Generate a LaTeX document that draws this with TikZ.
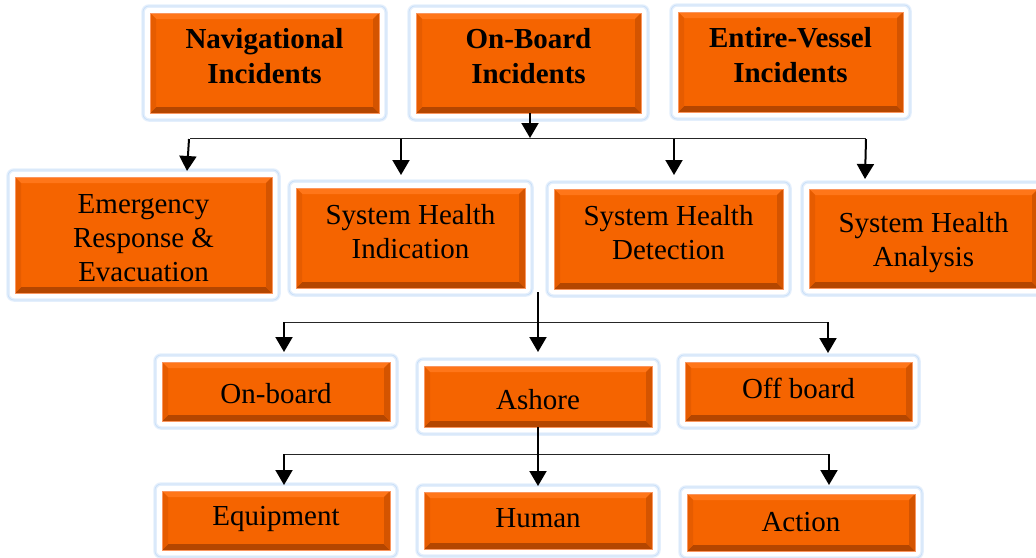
\documentclass[tikz,border=0pt]{standalone}
\usepackage{fontspec}
\setmainfont{Liberation Serif}
\usetikzlibrary{arrows.meta,calc}
\definecolor{orfill}{RGB}{245,100,0}
\definecolor{bvtop}{RGB}{255,118,25}
\definecolor{bvleft}{RGB}{230,92,0}
\definecolor{bvright}{RGB}{212,84,0}
\definecolor{bvbot}{RGB}{180,70,0}
\definecolor{orline}{RGB}{250,150,95}
\definecolor{glow}{RGB}{228,239,252}
\definecolor{glowin}{RGB}{200,223,248}
\tikzset{
  frame/.style={fill=white, draw=glow, line width=3.5pt, rounded corners=6pt},
  frameline/.style={draw=glowin, line width=0.7pt, rounded corners=6pt},
  obox/.style={rectangle, fill=orfill, draw=orline, line width=0.8pt, inner sep=0pt,
    path picture={
      \path (path picture bounding box.north west) coordinate (bvnw)
            (path picture bounding box.north east) coordinate (bvne)
            (path picture bounding box.south west) coordinate (bvsw)
            (path picture bounding box.south east) coordinate (bvse);
      \fill[bvtop] (bvnw) -- (bvne) -- ([shift={(-6pt,-6pt)}]bvne) -- ([shift={(6pt,-6pt)}]bvnw) -- cycle;
      \fill[bvbot] (bvsw) -- (bvse) -- ([shift={(-6pt,6pt)}]bvse) -- ([shift={(6pt,6pt)}]bvsw) -- cycle;
      \fill[bvleft] (bvnw) -- (bvsw) -- ([shift={(6pt,6pt)}]bvsw) -- ([shift={(6pt,-6pt)}]bvnw) -- cycle;
      \fill[bvright] (bvne) -- (bvse) -- ([shift={(-6pt,6pt)}]bvse) -- ([shift={(-6pt,-6pt)}]bvne) -- cycle;
    }},
  txt/.style={inner sep=0pt, align=center, font=\fontsize{29}{34}\selectfont},
  boldtxt/.style={txt, font=\fontsize{29}{35}\selectfont\bfseries},
  arr/.style={line width=2pt, -{Triangle[width=17pt,length=15pt]}},
  bus/.style={line width=1pt, draw=black!85}
}
% #1 text style, #2 name, #3-#6 inner box, #7 text raise (pt), #8 text
\newcommand\mybox[8][txt]{%
  \path[frame] (#3-7,#4-7) rectangle (#5+7,#6+7);
  \path[frameline] (#3-7,#4-7) rectangle (#5+7,#6+7);
  \node[obox, minimum width={(#5-#3)*1pt}, minimum height={(#6-#4)*1pt}] (#2) at ({(#3+#5)/2},{(#4+#6)/2}) {};
  \node[#1] (#2-t) at ([yshift=#7pt]#2.center) {#8};
}
\begin{document}
\begin{tikzpicture}[x=1pt,y=-1pt]
\useasboundingbox (0,0) rectangle (1036,557);
% row 1
\mybox[boldtxt]{nav}{150}{13}{379}{113}{6.5}{Navigational\\Incidents}
\mybox[boldtxt]{onb}{416}{13}{641}{113}{6.5}{On-Board\\Incidents}
\mybox[boldtxt]{ent}{678}{12}{903}{112}{6.5}{Entire-Vessel\\Incidents}
% row 2
\mybox{em}{15}{177}{272}{293}{-3}{Emergency\\Response \&\\Evacuation}
\mybox{ind}{296}{188}{525}{288}{6}{System Health\\Indication}
\mybox{det}{554}{189}{783}{289}{6.5}{System Health\\Detection}
\mybox{ana}{809}{189}{1038}{288}{-4}{System Health\\Analysis}
% row 3
\mybox{onbd}{162}{362}{390}{421}{-2}{On-board}
\mybox{ash}{424}{366}{652}{427}{-3}{Ashore}
\mybox{off}{685}{362}{912}{421}{3}{Off board}
% row 4
\mybox{eq}{162}{491}{390}{550}{2}{Equipment}
\mybox{hum}{424}{492}{652}{549}{2}{Human}
\mybox{act}{687}{494}{915}{551}{0}{Action}
% level 1 connectors
\coordinate (b1) at (530,138);
\coordinate (b1L) at (190,138);
\coordinate (b1R) at (866,138);
\draw[bus] (b1L) -- (b1R);
\draw[arr] (b1 |- onb.south) -- (b1);
\coordinate (s1) at (189,139); \coordinate (t1) at (187,171);
\coordinate (s2) at (401,139); \coordinate (t2) at (401,175);
\coordinate (s3) at (674,139); \coordinate (t3) at (674,175);
\coordinate (s4) at (866,139); \coordinate (t4) at (865,179);
\draw[arr] (s1) -- (t1);
\draw[arr] (s2) -- (t2);
\draw[arr] (s3) -- (t3);
\draw[arr] (s4) -- (t4);
% level 2 connectors
\coordinate (m2) at (538,292);
\coordinate (t5) at (538,352);
\coordinate (b2L) at (284,322);
\coordinate (b2R) at (828,322);
\coordinate (t6) at (284,352);
\coordinate (t7) at (828,353);
\draw[bus] (b2L) -- (b2R);
\draw[arr] (m2) -- (t5);
\draw[arr] (b2L) -- (t6);
\draw[arr] (b2R) -- (t7);
% level 3 connectors
\coordinate (t8) at (538,486);
\coordinate (b3L) at (284,454);
\coordinate (b3R) at (829,454);
\coordinate (t9) at (284,485);
\coordinate (t10) at (829,485);
\draw[bus] (b3L) -- (b3R);
\draw[arr] (t8 |- ash.south) -- (t8);
\draw[arr] (b3L) -- (t9);
\draw[arr] (b3R) -- (t10);
\end{tikzpicture}
\end{document}
